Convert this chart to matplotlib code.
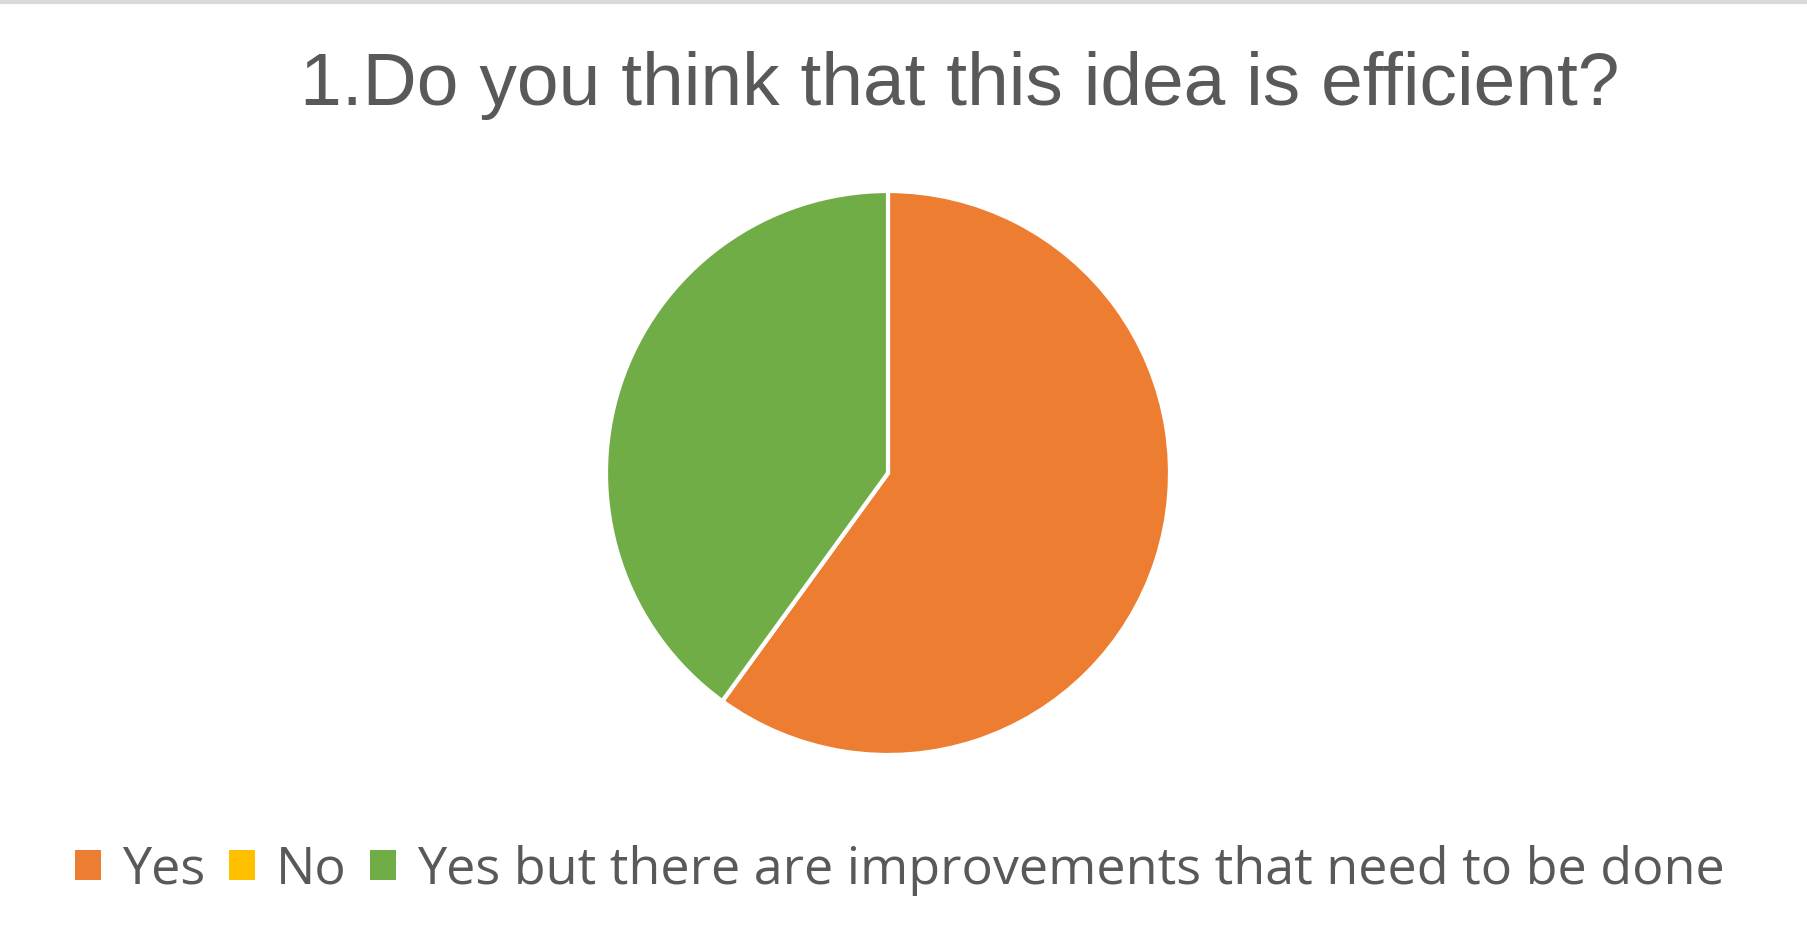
import matplotlib
matplotlib.use('Agg')
import matplotlib.pyplot as plt
from matplotlib.patches import Patch

labels = ['Yes', 'No', 'Yes but there are improvements that need to be done']
values = [60, 0, 40]
colors = ['#ED7D31', '#FFC000', '#70AD47']

fig = plt.figure(figsize=(18.07, 9.33), dpi=100, facecolor='white')

# thin grey frame line at the top
fig.add_artist(plt.Line2D([0, 1], [0.998, 0.998], color='#d9d9d9', linewidth=3))

# pie: centre ~ (888, 473) px, radius ~ 282 px
ax = fig.add_axes([(888 - 282) / 1807, (933 - 473 - 282) / 933, 564 / 1807, 564 / 933])
ax.pie(values, colors=colors, startangle=90, counterclock=False,
       wedgeprops=dict(edgecolor='white', linewidth=3))
ax.set_xlim(-1, 1)
ax.set_ylim(-1, 1)
ax.set_aspect('equal')
ax.axis('off')

fig.text(960 / 1807, 1 - 86 / 933, '1.Do you think that this idea is efficient?',
         ha='center', va='center', fontsize=54, color='#595959',
         family=['Liberation Sans Narrow', 'Liberation Sans'])

handles = [Patch(facecolor=c, edgecolor='none') for c in colors]
leg = fig.legend(handles, labels, loc='center', bbox_to_anchor=(900 / 1807, 1 - 870 / 933),
                 ncol=3, frameon=False, handlelength=0.5, handleheight=0.5,
                 handletextpad=0.4, columnspacing=0.45,
                 prop=dict(family='Open Sans', size=37.5))
for t in leg.get_texts():
    t.set_color('#595959')

fig.savefig('out.png', dpi=100, facecolor='white')
